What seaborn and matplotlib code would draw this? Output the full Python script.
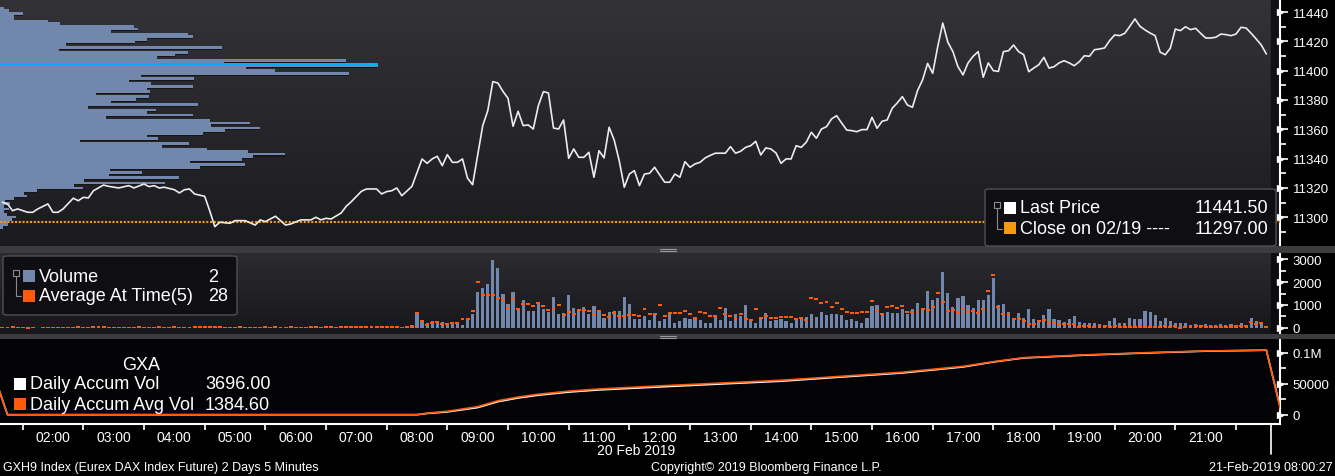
import numpy as np
import pandas as pd
import matplotlib
matplotlib.use("Agg")
import matplotlib.pyplot as plt
import seaborn as sns
from matplotlib.colors import LinearSegmentedColormap
from matplotlib.patches import Rectangle, FancyBboxPatch
from matplotlib.lines import Line2D

sns.set_theme(style="dark")
plt.rcParams["font.family"] = ["Liberation Sans", "DejaVu Sans"]

# bars are 5 minute bars, bar 0 = 01:10 on 20 Feb 2019
price_bar = [0, 1, 2, 3, 5, 6, 7, 9, 10, 11, 12, 14, 15, 16, 17, 18, 20, 21, 23, 25,
             26, 28, 29, 30, 31, 32, 34, 35, 36, 37, 38, 40, 41, 42, 43, 45, 46, 48, 50, 51,
             52, 54, 56, 57, 59, 61, 62, 63, 64, 65, 67, 68, 69, 71, 72, 74, 75, 76, 77, 78,
             79, 81, 83, 84, 85, 86, 87, 88, 89, 90, 91, 92, 93, 95, 96, 97, 98, 99, 100, 101,
             102, 103, 104, 105, 106, 107, 108, 109, 110, 111, 112, 113, 114, 115, 116, 117,
             118, 119, 120, 121, 122, 123, 124, 125, 126, 127, 128, 129, 130, 131, 132, 133,
             134, 135, 136, 137, 138, 139, 140, 141, 142, 143, 144, 145, 146, 147, 148, 149,
             150, 151, 152, 153, 154, 155, 156, 157, 158, 159, 160, 161, 162, 163, 164, 165,
             166, 167, 168, 169, 170, 171, 172, 173, 174, 175, 176, 177, 178, 179, 180, 181,
             182, 183, 184, 185, 186, 187, 188, 189, 190, 191, 192, 193, 194, 195, 196, 197,
             198, 199, 200, 201, 202, 203, 204, 205, 206, 207, 208, 209, 210, 211, 212, 213,
             214, 215, 216, 217, 218, 219, 220, 221, 222, 223, 224, 225, 226, 227, 228, 229,
             230, 231, 232, 233, 234, 235, 236, 237, 238, 239, 240, 241, 242, 243, 244, 245,
             246, 247, 248, 249, 250]
price = [11310.2, 11309.1, 11304.5, 11305.7, 11303.4, 11303.4, 11305.7, 11309.1, 11303.4, 11303.4,
         11305.7, 11313.0, 11311.3, 11313.6, 11313.2, 11318.1, 11322.0, 11321.1, 11320.0, 11321.6,
         11320.0, 11322.7, 11320.9, 11321.6, 11320.0, 11320.5, 11318.8, 11316.6, 11318.8, 11319.3,
         11315.9, 11314.3, 11304.5, 11293.6, 11296.6, 11295.9, 11297.7, 11297.7, 11294.7, 11298.2,
         11297.0, 11300.7, 11294.7, 11295.4, 11298.2, 11298.2, 11300.0, 11298.2, 11299.3, 11298.8,
         11302.9, 11307.5, 11310.6, 11317.7, 11319.3, 11319.3, 11315.9, 11317.5, 11318.1, 11320.0,
         11314.7, 11321.1, 11339.8, 11336.8, 11339.8, 11341.6, 11335.2, 11342.7, 11337.5, 11337.5,
         11339.8, 11326.6, 11322.2, 11362.5, 11372.7, 11392.5, 11391.6, 11385.9, 11381.2, 11362.1,
         11372.3, 11362.5, 11363.0, 11360.2, 11376.1, 11385.7, 11384.8, 11360.9, 11360.2, 11366.4,
         11340.2, 11346.6, 11340.9, 11340.9, 11344.3, 11327.3,
         11345.4, 11340.5, 11361.4, 11352.7, 11338.6, 11320.5, 11329.5, 11331.8, 11321.6, 11329.5,
         11330.0, 11334.1, 11328.9, 11323.9, 11323.9, 11329.5,
         11327.3, 11337.9, 11334.1, 11336.4, 11337.5, 11340.5, 11342.2, 11343.7, 11343.7, 11343.7,
         11348.2, 11343.7, 11345.0, 11347.7, 11348.8, 11351.8,
         11342.5, 11347.3, 11346.6, 11343.9, 11336.8, 11339.8, 11339.8, 11348.8, 11347.7, 11351.2,
         11358.0, 11353.9, 11360.2, 11361.8, 11367.1, 11369.3,
         11364.3, 11359.5, 11359.1, 11358.4, 11359.8, 11359.8, 11368.2, 11360.7, 11365.5, 11366.4,
         11374.4, 11378.0, 11382.3, 11376.6, 11375.0, 11386.4,
         11393.7, 11405.0, 11398.2, 11416.4, 11432.5, 11419.4, 11413.0, 11402.7, 11397.1, 11405.3,
         11409.8, 11413.0, 11395.5, 11405.3, 11400.0, 11399.5,
         11413.0, 11413.6, 11417.5, 11413.0, 11410.9, 11399.3, 11401.8, 11404.1, 11409.1, 11401.8,
         11402.7, 11405.3, 11406.8, 11405.3, 11403.4, 11406.1,
         11410.2, 11409.8, 11414.3, 11414.8, 11415.5, 11420.5, 11424.4, 11423.9, 11425.5, 11430.3,
         11435.3, 11430.3, 11427.8, 11425.7, 11423.9, 11412.6,
         11410.9, 11415.3, 11428.4, 11427.3, 11430.0, 11428.0, 11428.9, 11425.5, 11422.3, 11422.3,
         11422.8, 11425.0, 11424.6, 11423.9, 11425.0, 11429.6,
         11429.1, 11425.5, 11421.6, 11417.5, 11411.4]
close_prev = 11297.0

vol = [8, 5, 12, 6, 10, 4, 9, 0, 7, 11,
       5, 8, 6, 10, 9, 7, 12, 10, 14, 90,
       12, 9, 8, 11, 7, 10, 12, 8, 9, 6,
       10, 12, 9, 7, 11, 10, 8, 12, 9, 14,
       18, 55, 50, 12, 9, 10, 8, 11, 7, 9,
       10, 12, 8, 10, 9, 11, 7, 10, 12, 9,
       8, 11, 10, 9, 12, 10, 8, 11, 14, 40,
       45, 40, 40, 45, 12, 10, 9, 11, 15,
       15, 15, 58, 609, 247, 218, 305, 247, 261, 203,
       218, 160, 130, 363, 624, 1581, 1740, 1929, 2958, 2610,
       1479, 1044, 1581, 870, 1218, 754, 754, 1059, 827, 711,
       1349, 609, 653, 1436, 870, 783, 914, 609, 957, 682,
       435, 682, 740, 740, 1349, 1044, 392, 392, 522, 348,
       638, 305, 392, 682, 232, 305, 435, 392, 392, 348,
       218, 218, 537, 348, 870, 305, 609, 522, 1000, 348,
       218, 392, 653, 305, 348, 392, 305, 218, 435, 392,
       479, 609, 479, 696, 566, 609, 609, 566, 363,
       392, 305, 218, 435, 957, 1000, 653, 696, 653, 653,
       827, 609, 827, 1088, 827, 1610, 1218, 1305, 2436, 1523,
       914, 1305, 1392, 1000, 870, 1218, 1218, 1436, 2175, 1000,
       1044, 696, 435, 653, 435, 827, 392, 305, 566, 827,
       392, 348, 261, 392, 522, 261, 218, 218, 218, 174,
       130, 305, 435, 218, 218, 435, 392, 392, 740, 696,
       566, 305, 435, 305, 218, 218, 218, 130, 174, 130,
       174, 130, 130, 174, 130, 174, 130, 218, 130, 435,
       305, 261, 2]
avg_at_time = [25, 22, 28, 20, 24, 18, 22, np.nan, 20, 24,
               22, 25, 20, 24, 22, 26, 24, 22, 28, 30,
               26, 24, 22, 25, 20, 24, 22, 26, 24, 22,
               25, 28, 24, 22, 26, 24, 25, 22, 28, 30,
               34, 38, 36, 28, 24, 25, 22, 26, 24, 22,
               25, 24, 26, 22, 28, 24, 22, 26, 24, 25,
               22, 26, 28, 24, 30, 26, 24, 28, 30, 34,
               36, 34, 32, 30, 28, 26, 28, 30, 35,
               25, 30, 87, 667, 319, 130, 218, 276, 174, 189,
               232, 232, 406, 406, 754, 2016, 1436, 1436, 1436, 1320,
               1233, 885, 1262, 827, 1059, 1059, 972, 1102, 972, 798,
               827, 1015, 580, 711, 624, 798, 798, 740, 624, 725,
               580, 493, 638, 537, 537, 580, 580, 537, 841, 624,
               624, 1015, 537, 667, 667, 667, 754, 624, 450, 682,
               667, 537, 537, 885, 624, 537, 450, 624, 392, 363,
               841, 450, 537, 450, 450, 493, 493, 493, 392, 450,
               363, 1320, 1276, 1102, 1146, 928, 1102, 841, 682,
               667, 667, 711, 711, 1189, 740, 624, 928, 972, 885,
               972, 711, 711, 711, 841, 798, 928, 1537, 1146, 754,
               798, 653, 827, 711, 754, 667, 827, 1624, 2320, 928,
               624, 624, 406, 406, 290, 189, 189, 290, 363, 232,
               247, 189, 160, 189, 189, 58, 102, 102, 58, 102,
               87, 58, 87, 58, 58, 44, 44, 58, 58, 44,
               58, 58, 102, 58, 102, 15, 58, 58, 102, 102,
               58, 58, 58, 58, 58, 87, 102, 102, 102, 276,
               189, 232, 28]

# volume at price profile, top row first (relative lengths)
profile_vol = [4, 9, 23, 14, 14, 48, 60, 134, 138, 111,
               188, 193, 147, 135, 66, 222, 59, 188, 175, 157,
               346, 224, 378, 246, 275, 349, 141, 194, 129, 151,
               193, 147, 150, 96, 149, 136, 111, 198, 88, 156,
               147, 193, 106, 210, 250, 211, 260, 225, 203, 147,
               158, 80, 189, 162, 207, 248, 285, 253, 242, 190,
               245, 200, 110, 142, 109, 179, 84, 165, 74, 83,
               37, 24, 27, 14, 5, 10, 4, 9, 4, 7,
               16, 12, 8, 8, 3]
profile_top = 11443.6
profile_step = 1.78
poc_price = 11404.4
poc_vol = 378

accum_bar = [-1, 1, 82, 84, 88, 94, 98, 102, 106, 112, 118, 130, 142, 154, 166, 178,
             190, 196, 202, 214, 226, 238, 250, 253]
accum_vol = [48000, 0, 0, 2000, 4500, 11500, 21000, 27000, 31500, 36500, 40000, 44800,
             49500, 54000, 60800, 67300, 77000, 85000, 91500, 96000, 99500, 102500, 104000, 3696]
accum_avg = [48000, 0, 0, 2500, 5500, 13000, 22500, 28500, 33000, 38000, 41500, 46500,
             51000, 55500, 62000, 68500, 78000, 85500, 92000, 96500, 100000, 102800, 104200, 1385]

hour_labels = ["%02d:00" % h for h in range(2, 22)]
hour_pos = [(h * 60 - 70) / 5 for h in range(2, 22)]
half_pos = [(h * 60 + 30 - 70) / 5 for h in range(1, 22)]

price_ticks = [11300, 11320, 11340, 11360, 11380, 11400, 11420, 11440]
vol_ticks = [0, 1000, 2000, 3000]
accum_ticks = [0, 50000, 100000]
accum_ticklabels = ["0", "50000", "0.1M"]

# ---- colours ----
BLUE = "#7187ab"
CYAN = "#00b0ea"
ORANGE = "#ff5a0a"
GOLD = "#f39a12"
WHITE = "#ececec"

W, H = 1335, 477
AXR = 1280
XL = (-0.48, 252.7)


def rect(l, t, r, b):
    return [l / W, 1 - b / H, (r - l) / W, (b - t) / H]


def ftext(x, y, s, **kw):
    kw.setdefault("color", "white")
    kw.setdefault("va", "center")
    fig.text(x / W, 1 - y / H, s, **kw)


def gradient(ax, top, bottom):
    cmap = LinearSegmentedColormap.from_list("g", [bottom, top])
    ax.imshow(np.linspace(0, 1, 256).reshape(-1, 1), extent=[0, 1, 0, 1], origin="lower",
              transform=ax.transAxes, aspect="auto", cmap=cmap, zorder=0)


def right_axis(ax, major, minor, labels=None):
    ax.set_yticks(major)
    if labels is not None:
        ax.set_yticklabels(labels)
    ax.set_yticks(minor, minor=True)
    ax.yaxis.tick_right()
    ax.tick_params(axis="y", which="both", right=True, left=False, direction="out",
                   color="white", width=1.2, labelcolor="white", labelsize=9.5)
    ax.tick_params(axis="y", which="major", length=6, pad=3)
    ax.tick_params(axis="y", which="minor", length=4)
    ax.tick_params(axis="x", bottom=False, labelbottom=False)
    for s in ["top", "left", "bottom"]:
        ax.spines[s].set_visible(False)
    ax.spines["right"].set_color("white")
    ax.spines["right"].set_linewidth(1.5)
    ax.plot(np.full(len(major), 1.0), major, marker=">", ms=5, color="white", ls="none",
            transform=ax.get_yaxis_transform(), clip_on=False, zorder=10)
    ax.grid(False)


fig = plt.figure(figsize=(W / 100, H / 100), dpi=100, facecolor="black")

PY = (11280.4, 11448.9)

# ---- price panel: background + volume-at-price profile ----
ax_bg = fig.add_axes(rect(0, 0, AXR, 247))
gradient(ax_bg, "#333337", "#1b1b1f")
ax_bg.set_xlim(0, AXR)
ax_bg.set_ylim(*PY)
ax_bg.axis("off")
for i, v in enumerate(profile_vol):
    c = profile_top - (i + 0.5) * profile_step
    ax_bg.barh(c, v, height=profile_step, left=0, color=BLUE, linewidth=0, zorder=2 + 2 * i)
    ax_bg.barh(c - 0.7 * profile_step, v, height=0.4 * profile_step, left=0, color="#161619",
               linewidth=0, zorder=3 + 2 * i)
ax_bg.barh(poc_price, poc_vol, height=1.85, left=0, color=CYAN, linewidth=0, zorder=400)
ax_bg.set_zorder(1)

ax_p = fig.add_axes(rect(0, 0, AXR, 247))
ax_p.set_zorder(2)
ax_p.patch.set_alpha(0)
ax_p.axvspan(250.9, XL[1], color="#111114", zorder=1)
ax_p.axhline(close_prev, color=GOLD, lw=1.5, ls=(0, (1.0, 0.8)), zorder=3)
sns.lineplot(x=price_bar, y=price, ax=ax_p, color=WHITE, lw=1.2, estimator=None, sort=False,
             zorder=4)
ax_p.set_xlim(*XL)
ax_p.set_ylim(*PY)
ax_p.set_xlabel("")
ax_p.set_ylabel("")
right_axis(ax_p, price_ticks, [t + 10 for t in price_ticks[:-1]] + [11290])

# ---- volume panel ----
ax_v = fig.add_axes(rect(0, 254, AXR, 335))
gradient(ax_v, "#2c2c30", "#17171b")
k = np.arange(len(vol))
ax_v.bar(k, vol, width=0.62, color=BLUE, linewidth=0, zorder=2)
avg = np.array(avg_at_time, dtype=float)
ax_v.bar(k, 80, bottom=avg - 40, width=0.78, color=ORANGE, linewidth=0, zorder=3)
ax_v.axvspan(250.9, XL[1], color="#0c0c0f", zorder=1)
ax_v.set_xlim(*XL)
ax_v.set_ylim(-261, 3261)
right_axis(ax_v, vol_ticks, [500, 1500, 2500])

# ---- accumulated volume panel ----
ax_a = fig.add_axes(rect(0, 340, AXR, 425))
ax_a.set_facecolor("#030305")
sns.lineplot(x=accum_bar, y=accum_vol, ax=ax_a, color="white", lw=1.2, estimator=None,
             sort=False, zorder=3)
sns.lineplot(x=accum_bar, y=accum_avg, ax=ax_a, color=ORANGE, lw=1.2, estimator=None,
             sort=False, zorder=4)
ax_a.set_xlim(*XL)
ax_a.set_ylim(-15000, 122100)
ax_a.set_xlabel("")
ax_a.set_ylabel("")
right_axis(ax_a, accum_ticks, [25000, 75000], accum_ticklabels)
ax_a.spines["bottom"].set_visible(True)
ax_a.spines["bottom"].set_color("white")
ax_a.spines["bottom"].set_linewidth(1.5)
ax_a.set_xticks(hour_pos, hour_labels)
ax_a.set_xticks(half_pos, minor=True)
ax_a.tick_params(axis="x", which="major", bottom=True, labelbottom=True, length=0, pad=4,
                 labelcolor="white", labelsize=10)
ax_a.tick_params(axis="x", which="minor", bottom=True, length=4, width=1.2, color="white",
                 direction="out")
ax_a.plot([251, 251], [0, -0.35], color="white", lw=1.2,
          transform=ax_a.get_xaxis_transform(), clip_on=False)

# ---- separators ----
for t, b in [(247, 254), (335, 340)]:
    fig.patches.append(Rectangle((0, 1 - b / H), 1, (b - t) / H, transform=fig.transFigure,
                                 facecolor="#3c3c3e", edgecolor="none", zorder=5))
    for dy in (-1, 1):
        fig.lines.append(Line2D([660 / W, 676 / W], [1 - ((t + b) / 2 + dy) / H] * 2,
                                transform=fig.transFigure, color="#9a9a9a", lw=0.8, zorder=6))

# ---- legend boxes ----
def legend_box(l, t, r, b):
    fig.patches.append(FancyBboxPatch((l / W, 1 - b / H), (r - l) / W, (b - t) / H,
                                      boxstyle="round,pad=0,rounding_size=0.004",
                                      transform=fig.transFigure, facecolor="#0e0e13",
                                      edgecolor="#505055", lw=1.0, zorder=7))


def tree_icon(x, y1, y2):
    fig.patches.append(Rectangle(((x - 3) / W, 1 - (y1 + 3) / H), 6 / W, 6 / H,
                                 transform=fig.transFigure, facecolor="none",
                                 edgecolor="#8a8a8a", lw=0.8, zorder=8))
    fig.lines.append(Line2D([x / W, x / W, (x + 5) / W], [1 - (y1 + 3) / H, 1 - y2 / H, 1 - y2 / H],
                            transform=fig.transFigure, color="#8a8a8a", lw=0.8, zorder=8))


def swatch(x, y, color):
    fig.patches.append(Rectangle((x / W, 1 - (y + 6) / H), 12 / W, 12 / H,
                                 transform=fig.transFigure, facecolor=color,
                                 edgecolor="none", zorder=8))


legend_box(985, 190, 1276, 247)
tree_icon(997, 206, 230)
swatch(1004, 209, "white")
swatch(1004, 229, GOLD)
ftext(1020, 209, "Last Price", fontsize=13, zorder=9)
ftext(1268, 209, "11441.50", fontsize=13, ha="right", zorder=9)
ftext(1020, 229, "Close on 02/19 ----", fontsize=13, zorder=9)
ftext(1268, 229, "11297.00", fontsize=13, ha="right", zorder=9)

legend_box(3, 257, 237, 316)
tree_icon(16, 274, 297)
swatch(23, 277, BLUE)
swatch(23, 297, ORANGE)
ftext(39, 277, "Volume", fontsize=13, zorder=9)
ftext(208, 277, "2", fontsize=13, zorder=9)
ftext(39, 297, "Average At Time(5)", fontsize=13, zorder=9)
ftext(208, 297, "28", fontsize=13, zorder=9)

ftext(141, 366, "GXA", fontsize=13, ha="center", zorder=9)
swatch(14, 385, "white")
swatch(14, 405, ORANGE)
ftext(30, 385, "Daily Accum Vol", fontsize=13, zorder=9)
ftext(205, 385, "3696.00", fontsize=13, zorder=9)
ftext(30, 405, "Daily Accum Avg Vol", fontsize=13, zorder=9)
ftext(205, 405, "1384.60", fontsize=13, zorder=9)

# ---- footer ----
ftext(636, 451, "20 Feb 2019", fontsize=10, ha="center")
ftext(3, 468, "GXH9 Index (Eurex DAX Index Future) 2 Days 5 Minutes", fontsize=9)
ftext(766, 468, "Copyright\u00a9 2019 Bloomberg Finance L.P.", fontsize=9, ha="center")
ftext(1333, 468, "21-Feb-2019 08:00:27", fontsize=9, ha="right")

fig.savefig("out.png", dpi=100, facecolor="black")
